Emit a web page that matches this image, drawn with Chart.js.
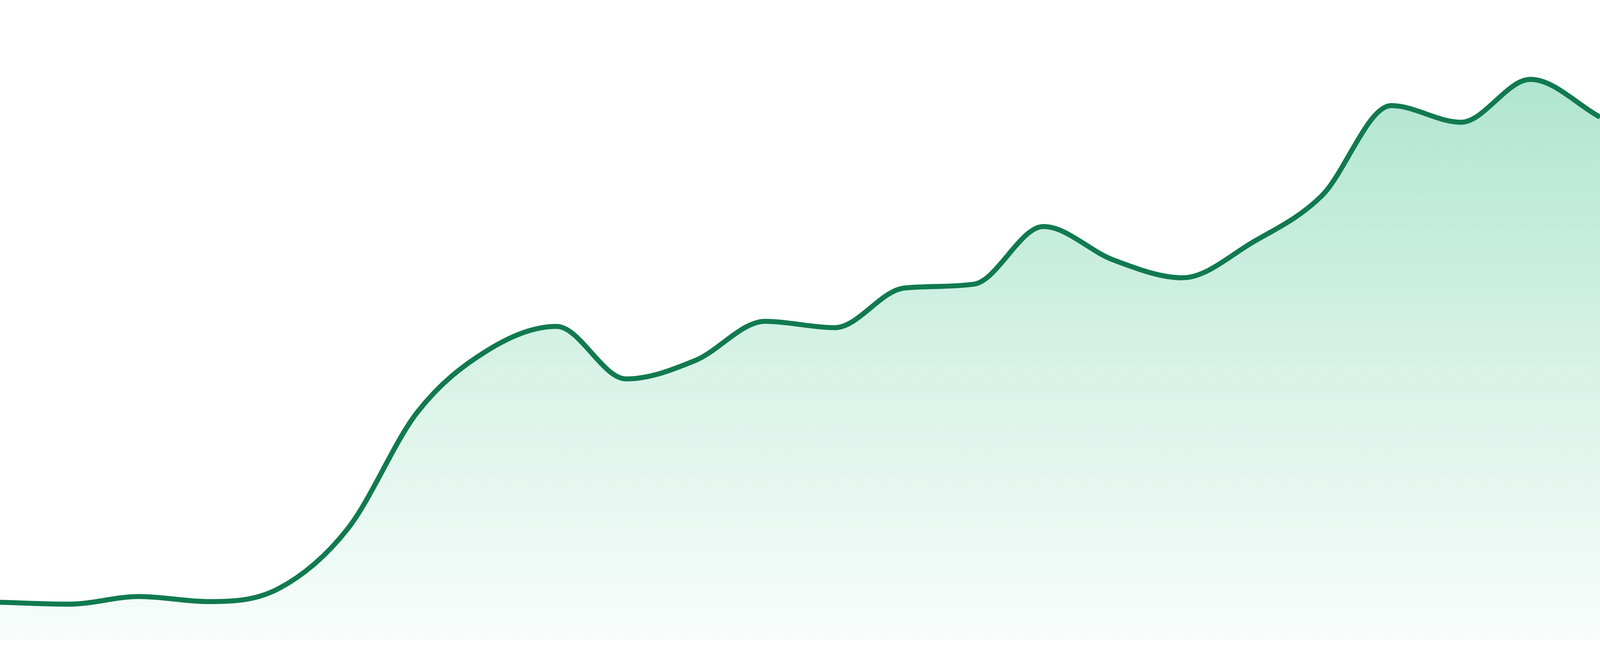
<!DOCTYPE html>
<html>
<head>
<meta charset="utf-8">
<script src="https://cdn.jsdelivr.net/npm/chart.js@4.4.1/dist/chart.umd.min.js"></script>
<style>
  html, body { margin: 0; padding: 0; background: #ffffff; overflow: hidden; }
  #wrap { width: 100vw; height: 100vh; position: relative; }
</style>
</head>
<body>
<div id="wrap"><canvas id="c"></canvas></div>
<script>
const labels = ["P1","P2","P3","P4","P5","P6","P7","P8","P9","P10","P11","P12",
                "P13","P14","P15","P16","P17","P18","P19","P20","P21","P22","P23","P24"];
const values = [5.9, 5.6, 6.8, 6.0, 8.0, 17.4, 35.6, 45.2, 49.0, 40.8, 43.7, 49.8,
                48.8, 55.0, 55.6, 64.6, 59.4, 56.6, 62.1, 69.4, 83.5, 80.9, 87.6, 81.7];
const yMin = 0;
const yMax = 100;

const lineColor = '#117a4f';
// reference is 4800 device px wide; scale stroke/padding to the actual CSS width
const k = window.innerWidth / 4800;

function fillGradient(context) {
  const chart = context.chart;
  const area = chart.chartArea;
  if (!area) return 'rgba(40,185,130,0.2)';
  const g = chart.ctx.createLinearGradient(0, area.top, 0, area.bottom);
  g.addColorStop(0, 'rgba(40,185,130,0.42)');
  g.addColorStop(0.5, 'rgba(40,185,130,0.21)');
  g.addColorStop(1, 'rgba(40,185,130,0.03)');
  return g;
}

new Chart(document.getElementById('c'), {
  type: 'line',
  data: {
    labels: labels,
    datasets: [{
      data: values,
      borderColor: lineColor,
      borderWidth: 15 * k,
      backgroundColor: fillGradient,
      fill: 'start',
      pointRadius: 0,
      pointHoverRadius: 0,
      cubicInterpolationMode: 'monotone'
    }]
  },
  options: {
    responsive: true,
    maintainAspectRatio: false,
    animation: false,
    layout: { padding: { top: 0, left: 0, right: 0, bottom: 48 * k } },
    plugins: { legend: { display: false }, tooltip: { enabled: false } },
    scales: {
      x: { display: false, offset: false },
      y: { display: false, min: yMin, max: yMax }
    }
  }
});
</script>
</body>
</html>
